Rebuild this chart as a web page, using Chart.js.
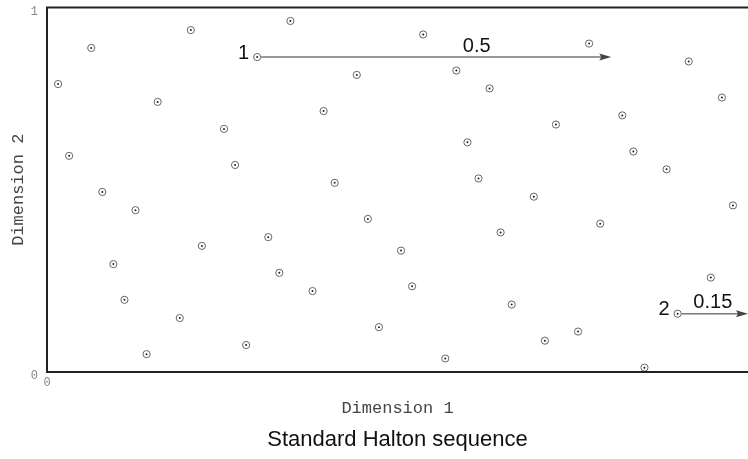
<!DOCTYPE html>
<html>
<head>
<meta charset="utf-8">
<script src="https://cdn.jsdelivr.net/npm/chart.js@4/dist/chart.umd.min.js"></script>
<style>
  html, body { margin: 0; padding: 0; background: #fff; overflow: hidden; }
  canvas { display: block; }
</style>
</head>
<body>
<canvas id="c" width="748" height="459"></canvas>
<script>
// Dimension 1 values of the plotted points
const dim1 = [
  0.5, 0.25, 0.75, 0.125, 0.625, 0.375, 0.875, 0.0625, 0.5625, 0.3125,
  0.8125, 0.1875, 0.6875, 0.4375, 0.9375, 0.03125, 0.53125, 0.28125, 0.78125, 0.15625,
  0.65625, 0.40625, 0.90625, 0.09375, 0.59375, 0.34375, 0.84375, 0.21875, 0.71875, 0.46875,
  0.96875, 0.015625, 0.515625, 0.265625, 0.765625, 0.140625, 0.640625, 0.390625, 0.890625, 0.078125,
  0.578125, 0.328125, 0.828125, 0.203125, 0.703125, 0.453125, 0.953125, 0.109375, 0.609375, 0.296875
];
// Dimension 2 values of the plotted points
const dim2 = [
  0.333, 0.667, 0.111, 0.444, 0.778, 0.222, 0.556, 0.889, 0.037, 0.370,
  0.704, 0.148, 0.481, 0.815, 0.259, 0.593, 0.926, 0.074, 0.407, 0.741,
  0.185, 0.519, 0.852, 0.296, 0.630, 0.963, 0.012, 0.346, 0.679, 0.123,
  0.457, 0.790, 0.235, 0.568, 0.901, 0.049, 0.383, 0.716, 0.160, 0.494,
  0.827, 0.272, 0.605, 0.938, 0.086, 0.420, 0.753, 0.198, 0.531, 0.864
];
// Tick labels
const xTickValues = [0];
const yTickValues = [0, 1];
// Annotations: which point, its label, arrow length and length label
const annPointIndex = [49, 38];
const annNames = ['1', '2'];
const annLengths = [0.5, 0.15];
const annLengthLabels = ['0.5', '0.15'];

const xMax = 0.99;

const points = dim1.map((x, i) => ({ x: x, y: dim2[i] }));

const framePlugin = {
  id: 'frame',
  afterDraw(chart) {
    const { ctx, chartArea: a } = chart;
    ctx.save();
    ctx.strokeStyle = '#222';
    ctx.lineWidth = 2;
    ctx.beginPath();
    ctx.moveTo(a.right + 2, a.top);
    ctx.lineTo(a.left, a.top);
    ctx.lineTo(a.left, a.bottom);
    ctx.lineTo(a.right + 2, a.bottom);
    ctx.stroke();
    ctx.restore();
  }
};

const labelFrac = [0.62, 0.5];
const arrowPlugin = {
  id: 'arrows',
  afterDatasetsDraw(chart) {
    const { ctx, chartArea: a, scales } = chart;
    ctx.save();
    annPointIndex.forEach((pi, k) => {
      const p = points[pi];
      const px = scales.x.getPixelForValue(p.x);
      const py = scales.y.getPixelForValue(p.y);
      let ex = scales.x.getPixelForValue(p.x + annLengths[k]);
      ex = Math.min(ex, a.right);
      const sx = px + 4;
      ctx.strokeStyle = '#777';
      ctx.lineWidth = 1.5;
      ctx.beginPath();
      ctx.moveTo(sx, py);
      ctx.lineTo(ex - 8, py);
      ctx.stroke();
      ctx.fillStyle = '#444';
      ctx.beginPath();
      ctx.moveTo(ex, py);
      ctx.lineTo(ex - 12, py - 3.5);
      ctx.lineTo(ex - 10, py);
      ctx.lineTo(ex - 12, py + 3.5);
      ctx.closePath();
      ctx.fill();
      ctx.fillStyle = '#111';
      ctx.font = '20px "Liberation Sans", Arial, sans-serif';
      ctx.textBaseline = 'middle';
      ctx.textAlign = 'right';
      ctx.fillText(annNames[k], px - 8, py - 4);
      ctx.textAlign = 'center';
      const lx = px + (ex - px) * labelFrac[k];
      ctx.fillText(annLengthLabels[k], lx, py - 11);
    });
    ctx.restore();
  }
};

new Chart(document.getElementById('c'), {
  type: 'scatter',
  data: {
    datasets: [
      {
        data: points,
        order: 2,
        pointRadius: 3.6,
        pointBorderWidth: 1,
        pointBorderColor: '#666',
        pointBackgroundColor: '#fff',
        showLine: false
      },
      {
        data: points,
        order: 1,
        pointRadius: 1,
        pointBorderWidth: 0,
        pointBackgroundColor: '#222',
        showLine: false
      }
    ]
  },
  options: {
    responsive: false,
    animation: false,
    events: [],
    devicePixelRatio: 1,
    layout: { autoPadding: false, padding: { top: 7.5, right: 0, left: 0, bottom: 0 } },
    plugins: {
      legend: { display: false },
      tooltip: { enabled: false },
      title: {
        display: true,
        position: 'bottom',
        fullSize: false,
        text: 'Standard Halton sequence',
        color: '#111',
        font: { family: '"Liberation Sans", Arial, sans-serif', size: 22, weight: 'normal' },
        padding: { top: 4, bottom: 6 }
      }
    },
    scales: {
      x: {
        type: 'linear',
        min: 0,
        max: xMax,
        grid: { display: false, drawTicks: false },
        border: { display: false },
        afterBuildTicks: (s) => { s.ticks = xTickValues.map(v => ({ value: v })); },
        afterFit: (s) => { s.height = 50.6; s.paddingLeft = 0; s.paddingRight = 0; },
        ticks: {
          padding: 4,
          color: '#888',
          font: { family: '"Liberation Mono", monospace', size: 12 },
          callback: (v) => String(v)
        },
        title: {
          display: true,
          text: 'Dimension 1',
          color: '#444',
          font: { family: '"Liberation Mono", "Courier New", monospace', size: 17 },
          padding: { top: 4, bottom: 4 }
        }
      },
      y: {
        type: 'linear',
        min: 0,
        max: 1,
        grid: { display: false, drawTicks: false },
        border: { display: false },
        afterBuildTicks: (s) => { s.ticks = yTickValues.map(v => ({ value: v })); },
        afterFit: (s) => { s.width = 47; s.paddingTop = 0; s.paddingBottom = 0; },
        ticks: {
          padding: 9,
          labelOffset: 4,
          color: '#888',
          font: { family: '"Liberation Mono", monospace', size: 12 },
          callback: (v) => String(v)
        },
        title: {
          display: true,
          text: 'Dimension 2',
          color: '#444',
          font: { family: '"Liberation Mono", "Courier New", monospace', size: 17 },
          padding: { top: 8, bottom: 4 }
        }
      }
    }
  },
  plugins: [framePlugin, arrowPlugin]
});
</script>
</body>
</html>
